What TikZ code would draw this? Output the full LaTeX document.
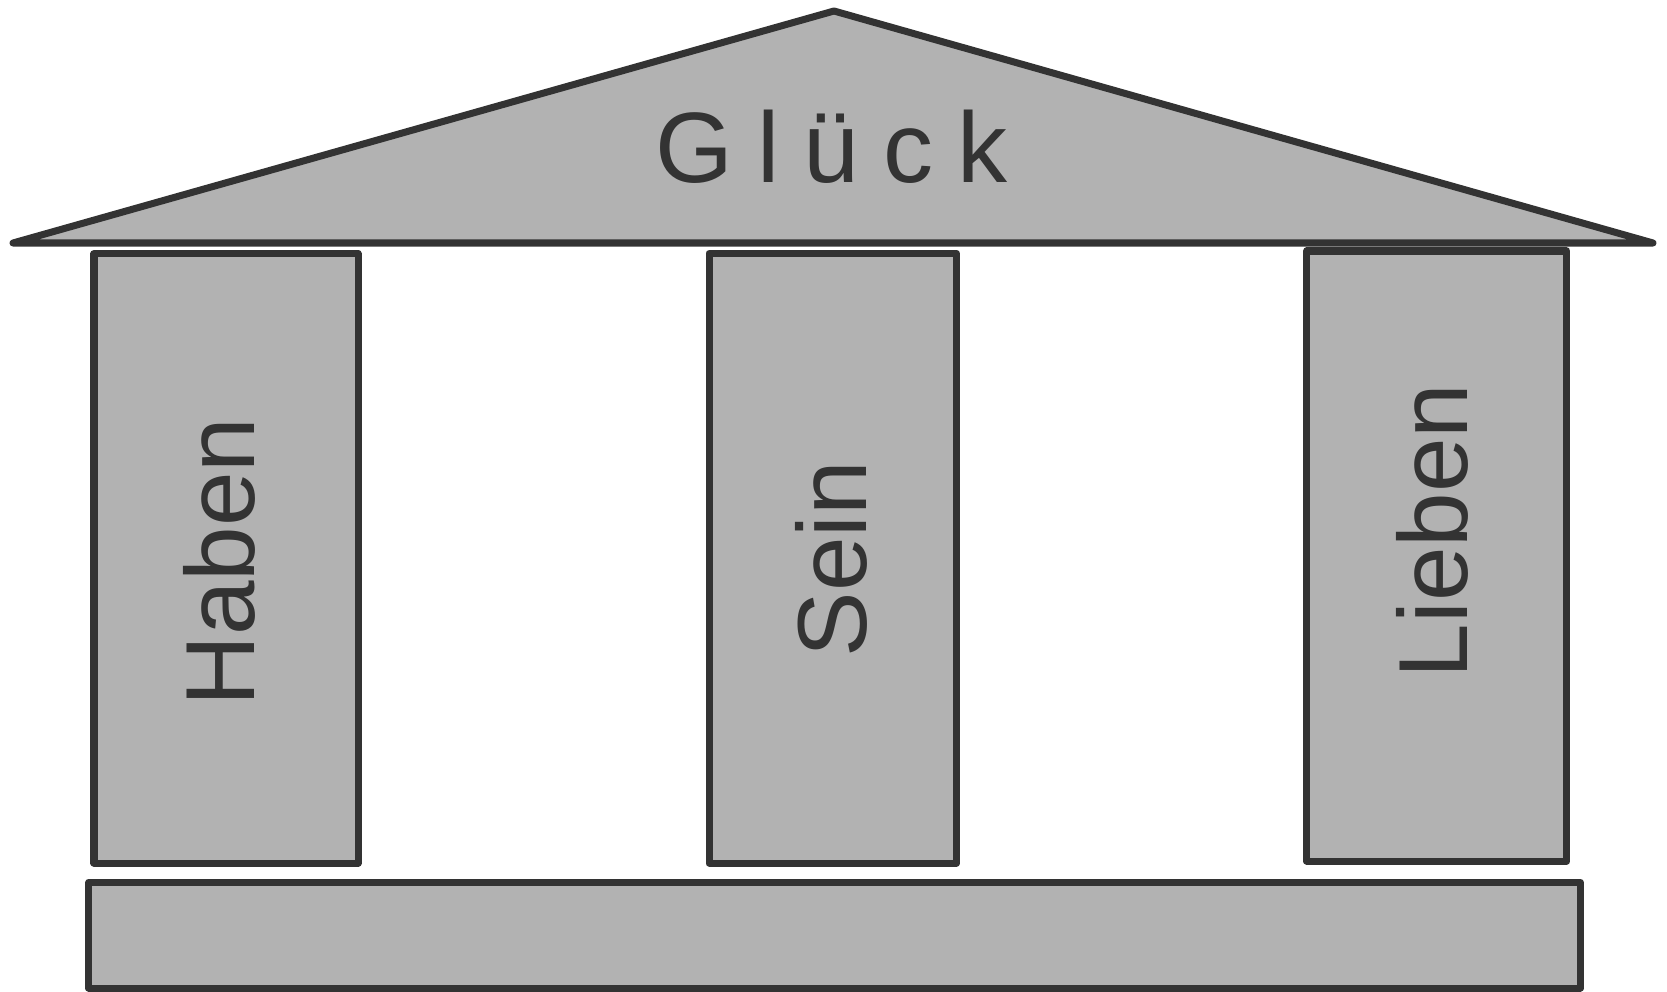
\documentclass[tikz,border=0pt]{standalone}
\usepackage{fontspec}
\setmainfont{Liberation Sans}
\definecolor{edge}{HTML}{333333}
\definecolor{stone}{HTML}{B2B2B2}
\begin{document}
\begin{tikzpicture}[x=0.01cm,y=-0.01cm,
  part/.style={draw=edge,fill=stone,line width=0.07cm,line join=round,line cap=round},
  label/.style={text=edge,inner sep=0pt,font=\fontsize{27.9pt}{30pt}\selectfont}]
\useasboundingbox (0,0) rectangle (1667,991);
% base
\draw[part] (88.7,882.5) rectangle (1580.3,988);
% pillars
\draw[part] (94,253.7) rectangle (358,863);
\draw[part] (709,253.3) rectangle (956.5,863);
\draw[part] (1306.7,251) rectangle (1566.7,861);
% roof
\draw[part] (13,243) -- (834,11) -- (1653,243) -- cycle;
% texts
\node[label,anchor=base,font=\fontsize{28.45pt}{30pt}\selectfont] (glueck) at (831.5,182.7)
  {G\hspace{0.24em}l\hspace{0.24em}ü\hspace{0.24em}c\hspace{0.24em}k};
\node[label,anchor=base,rotate=90] (haben) at (254,562) {Haben};
\node[label,anchor=base,rotate=90] (sein) at (866,559) {Sein};
\node[label,anchor=base,rotate=90] (lieben) at (1467,531) {Lieben};
\end{tikzpicture}
\end{document}
